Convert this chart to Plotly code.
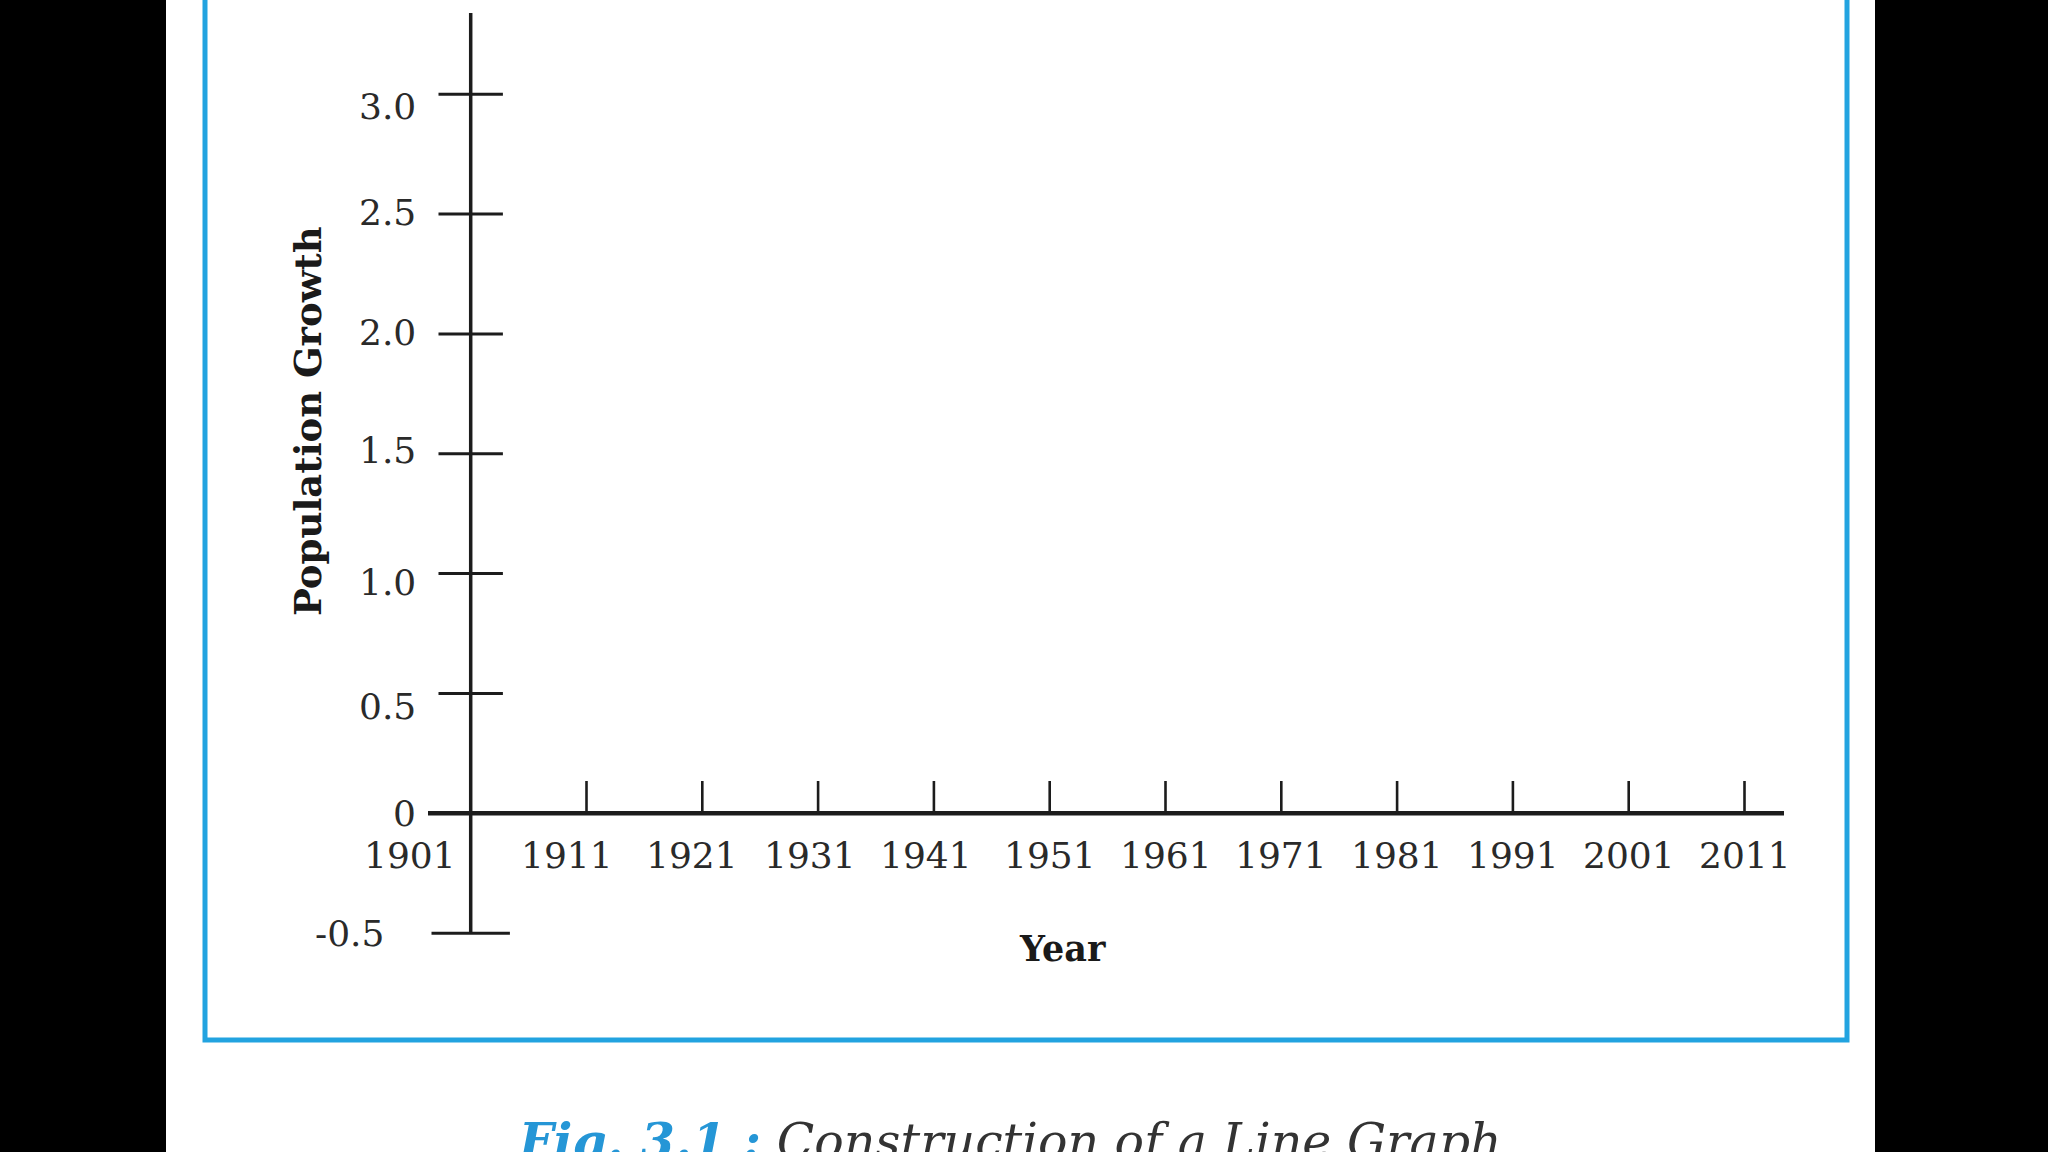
import plotly.graph_objects as go

# ---------------- data ----------------
years = [1901, 1911, 1921, 1931, 1941, 1951, 1961, 1971, 1981, 1991, 2001, 2011]
year_labels = ["1901", "1911", "1921", "1931", "1941", "1951", "1961", "1971",
               "1981", "1991", "2001", "2011"]
growth_ticks = [0.5, 1.0, 1.5, 2.0, 2.5, 3.0]
growth_labels = ["0.5", "1.0", "1.5", "2.0", "2.5", "3.0"]
zero_value = 0
zero_label = "0"
growth_min = -0.5
growth_min_label = "-0.5"
x_title = "Year"
y_title = "Population Growth"
caption_fig = "Fig. 3.1 :"
caption_text = "Construction of a Line Graph"

# ---------------- layout constants (pixel geometry) ----------------
W, H = 2048, 1152
ORIGIN_PX = 470.7       # pixel x of first year
PX_PER_YEAR = 11.58
ZERO_PY = 813.3         # pixel y of value 0
PX_PER_UNIT = 239.7

def xd(px):
    return years[0] + (px - ORIGIN_PX) / PX_PER_YEAR

def yd(py):
    return (ZERO_PY - py) / PX_PER_UNIT

INK = "#1c1c1c"
TXT = "#2a2a2a"
BLUE = "#22a3e0"
FONT = "DejaVu Serif"

fig = go.Figure()

# y axis line
fig.add_trace(go.Scatter(x=[years[0], years[0]], y=[growth_min, yd(13)], mode="lines",
                         line=dict(color=INK, width=3.5), hoverinfo="skip"))
# x axis line
fig.add_trace(go.Scatter(x=[xd(428), xd(1784)], y=[zero_value, zero_value], mode="lines",
                         line=dict(color=INK, width=4.5), hoverinfo="skip"))
# y ticks (crossing the axis)
fig.add_trace(go.Scatter(x=[years[0]] * len(growth_ticks), y=growth_ticks, mode="markers",
                         marker=dict(symbol="line-ew", size=46,
                                     line=dict(color=INK, width=3)),
                         hoverinfo="skip"))
# bottom end cap at -0.5
fig.add_trace(go.Scatter(x=[years[0]], y=[growth_min], mode="markers",
                         marker=dict(symbol="line-ew", size=56,
                                     line=dict(color=INK, width=3)),
                         hoverinfo="skip"))
# x ticks (upward from the axis)
tick_len = yd(781)
tx, ty = [], []
for yr in years[1:]:
    tx += [yr, yr, None]
    ty += [zero_value, tick_len, None]
fig.add_trace(go.Scatter(x=tx, y=ty, mode="lines", line=dict(color=INK, width=2.6),
                         hoverinfo="skip"))

annotations = []
# y tick labels (hand-set nudges in pixels, positive = down)
y_nudge = {"0.5": 13, "1.0": 9, "1.5": -3, "2.0": -1, "2.5": -2, "3.0": 12}
for v, lab in zip(growth_ticks, growth_labels):
    annotations.append(dict(x=xd(418), y=v, text=lab, xanchor="right", yanchor="middle",
                            yshift=-y_nudge.get(lab, 0), showarrow=False,
                            font=dict(family=FONT, size=36, color=TXT)))
annotations.append(dict(x=xd(418), y=zero_value, text=zero_label, xanchor="right",
                        yanchor="middle", showarrow=False,
                        font=dict(family=FONT, size=36, color=TXT)))
annotations.append(dict(x=xd(386), y=growth_min, text=growth_min_label, xanchor="right",
                        yanchor="middle", showarrow=False,
                        font=dict(family=FONT, size=36, color=TXT)))
# x tick labels
x_nudge = {"1901": -61, "1911": -20, "1921": -10, "1931": -8, "1941": -8}
for yr, lab in zip(years, year_labels):
    annotations.append(dict(x=yr, y=yd(855.5), text=lab, xanchor="center", yanchor="middle",
                            xshift=x_nudge.get(lab, 0), showarrow=False,
                            font=dict(family=FONT, size=36, color=TXT)))
# axis titles
annotations.append(dict(x=xd(308), y=yd(421), text="<b>" + y_title + "</b>", textangle=-90,
                        xanchor="center", yanchor="middle", showarrow=False,
                        font=dict(family=FONT, size=37, color="#1a1a1a")))
annotations.append(dict(x=xd(1062), y=yd(948), text="<b>" + x_title + "</b>",
                        xanchor="center", yanchor="middle", showarrow=False,
                        font=dict(family=FONT, size=35, color="#1a1a1a")))
# caption (cut by the bottom edge, as in the source scan)
annotations.append(dict(xref="paper", yref="paper", x=515 / W, y=1 - 1110 / H,
                        xanchor="left", yanchor="top", showarrow=False,
                        text="<i><b><span style='color:#2596d6'>" + caption_fig +
                             "</span></b> " + caption_text + "</i>",
                        font=dict(family=FONT, size=49, color="#333333")))

shapes = [
    # blue frame
    dict(type="rect", xref="paper", yref="paper", x0=205 / W, x1=1847 / W,
         y0=1 - 1040 / H, y1=1.05, line=dict(color=BLUE, width=5), layer="below"),
    # black side bands
    dict(type="rect", xref="paper", yref="paper", x0=0, x1=166 / W, y0=0, y1=1,
         fillcolor="black", line=dict(width=0), layer="above"),
    dict(type="rect", xref="paper", yref="paper", x0=1875 / W, x1=1, y0=0, y1=1,
         fillcolor="black", line=dict(width=0), layer="above"),
]

fig.update_layout(
    width=W, height=H, margin=dict(l=0, r=0, t=0, b=0),
    paper_bgcolor="white", plot_bgcolor="white", showlegend=False,
    xaxis=dict(range=[xd(0), xd(W)], visible=False, fixedrange=True),
    yaxis=dict(range=[yd(H), yd(0)], visible=False, fixedrange=True),
    annotations=annotations, shapes=shapes,
)

fig.write_html("out.html", config={"displayModeBar": False},
               post_script="document.body.style.margin='0';document.body.style.overflow='hidden';")
